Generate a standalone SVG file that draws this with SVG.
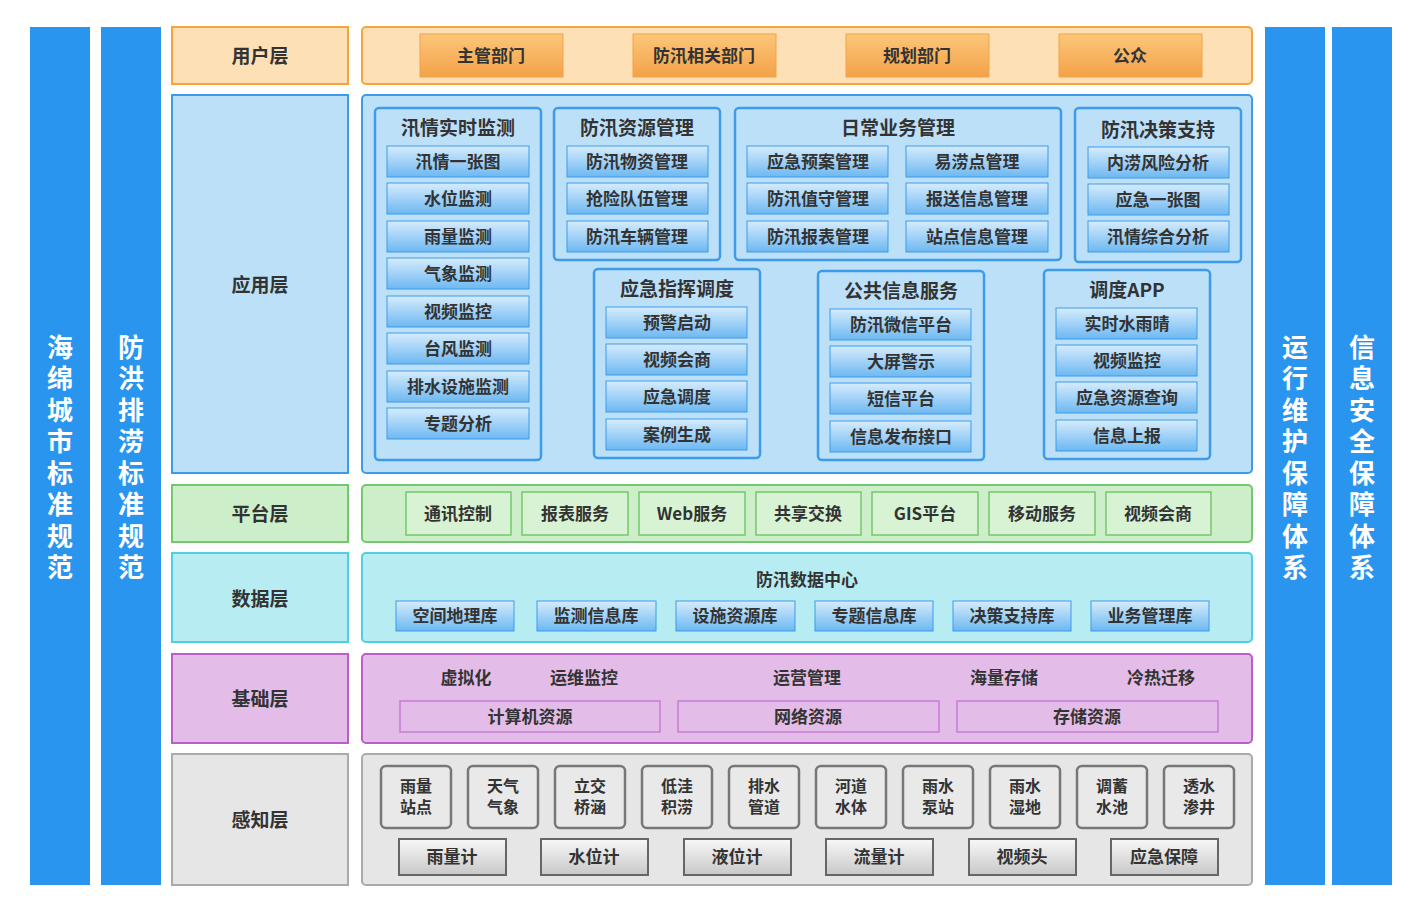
<svg xmlns="http://www.w3.org/2000/svg" width="1422" height="912" viewBox="0 0 1422 912">
<defs>
<linearGradient id="gb" x1="0" y1="0" x2="0" y2="1"><stop offset="0" stop-color="#d6ecfc"/><stop offset="1" stop-color="#6db8f2"/></linearGradient>
<linearGradient id="go" x1="0" y1="0" x2="0" y2="1"><stop offset="0" stop-color="#fcc67a"/><stop offset="1" stop-color="#f4a248"/></linearGradient>
<linearGradient id="gg" x1="0" y1="0" x2="0" y2="1"><stop offset="0" stop-color="#f8f8f8"/><stop offset="1" stop-color="#c8c8c8"/></linearGradient>
<style>
text{font-family:"Noto Sans CJK SC","Noto Sans",sans-serif;font-weight:bold;fill:#333;text-anchor:middle;dominant-baseline:central;transform:translateY(-2px)}
.side{fill:#2a95ee}
.vt{fill:#fff;font-size:26px;letter-spacing:5.5px;transform:none}
.lbl{font-size:19px}
.t{font-size:17px}
.t2{font-size:16px}
.grp{fill:#bde0f9;stroke:#3d9be9;stroke-width:2.5}
.bi{fill:url(#gb);stroke:#3d9be9;stroke-width:1}
.oi{fill:url(#go);stroke:#f3a248;stroke-width:1}
.pi{fill:#d7f3d4;stroke:#74c76e;stroke-width:1.5}
.di{fill:url(#gb);stroke:#3d9be9;stroke-width:1}
.ki{fill:none;stroke:#c77bd4;stroke-width:1.5}
.si{fill:#e9e9e9;stroke:#777;stroke-width:2.5}
.gi{fill:url(#gg);stroke:#666;stroke-width:2}
</style>
</defs>
<rect width="1422" height="912" fill="#fff"/>
<g id="sides">
<rect class="side" x="30" y="27" width="60" height="858"/>
<rect class="side" x="101" y="27" width="60" height="858"/>
<rect class="side" x="1265" y="27" width="60" height="858"/>
<rect class="side" x="1332" y="27" width="60" height="858"/>
<text class="vt" x="60" y="460" writing-mode="tb">海绵城市标准规范</text>
<text class="vt" x="131" y="460" writing-mode="tb">防洪排涝标准规范</text>
<text class="vt" x="1295" y="460" writing-mode="tb">运行维护保障体系</text>
<text class="vt" x="1362" y="460" writing-mode="tb">信息安全保障体系</text>
</g>
<g id="user">
<rect x="172" y="27" width="176" height="57" fill="#fde0b5" stroke="#f7a43a" stroke-width="2"/>
<text class="lbl" x="260" y="56">用户层</text>
<rect x="362" y="27" width="890" height="57" fill="#fde0b5" stroke="#f7a43a" stroke-width="2" rx="4"/>
<rect class="oi" x="420" y="34" width="143" height="43"/><text class="t" x="491" y="56">主管部门</text>
<rect class="oi" x="633" y="34" width="143" height="43"/><text class="t" x="704" y="56">防汛相关部门</text>
<rect class="oi" x="846" y="34" width="143" height="43"/><text class="t" x="917" y="56">规划部门</text>
<rect class="oi" x="1059" y="34" width="143" height="43"/><text class="t" x="1130" y="56">公众</text>
</g>
<g id="app">
<rect x="172" y="95" width="176" height="378" fill="#bde0f9" stroke="#3d9be9" stroke-width="2"/>
<text class="lbl" x="260" y="285">应用层</text>
<rect x="362" y="95" width="890" height="378" fill="#bde0f9" stroke="#3d9be9" stroke-width="2" rx="4"/>
<g id="g1"><rect class="grp" x="375" y="108" width="166" height="352" rx="4"/><text class="lbl" x="458" y="128">汛情实时监测</text>
<rect class="bi" x="387" y="146" width="142" height="31"/><text class="t" x="458" y="162">汛情一张图</text>
<rect class="bi" x="387" y="183" width="142" height="31"/><text class="t" x="458" y="199">水位监测</text>
<rect class="bi" x="387" y="221" width="142" height="31"/><text class="t" x="458" y="237">雨量监测</text>
<rect class="bi" x="387" y="258" width="142" height="31"/><text class="t" x="458" y="274">气象监测</text>
<rect class="bi" x="387" y="296" width="142" height="31"/><text class="t" x="458" y="312">视频监控</text>
<rect class="bi" x="387" y="333" width="142" height="31"/><text class="t" x="458" y="349">台风监测</text>
<rect class="bi" x="387" y="371" width="142" height="31"/><text class="t" x="458" y="387">排水设施监测</text>
<rect class="bi" x="387" y="408" width="142" height="31"/><text class="t" x="458" y="424">专题分析</text></g>
<g id="g2"><rect class="grp" x="554" y="108" width="166" height="152" rx="4"/><text class="lbl" x="637" y="128">防汛资源管理</text>
<rect class="bi" x="567" y="146" width="141" height="31"/><text class="t" x="637" y="162">防汛物资管理</text>
<rect class="bi" x="567" y="183" width="141" height="31"/><text class="t" x="637" y="199">抢险队伍管理</text>
<rect class="bi" x="567" y="221" width="141" height="31"/><text class="t" x="637" y="237">防汛车辆管理</text></g>
<g id="g3"><rect class="grp" x="735" y="108" width="326" height="152" rx="4"/><text class="lbl" x="898" y="128">日常业务管理</text>
<rect class="bi" x="747" y="146" width="141" height="31"/><text class="t" x="818" y="162">应急预案管理</text>
<rect class="bi" x="747" y="183" width="141" height="31"/><text class="t" x="818" y="199">防汛值守管理</text>
<rect class="bi" x="747" y="221" width="141" height="31"/><text class="t" x="818" y="237">防汛报表管理</text>
<rect class="bi" x="906" y="146" width="142" height="31"/><text class="t" x="977" y="162">易涝点管理</text>
<rect class="bi" x="906" y="183" width="142" height="31"/><text class="t" x="977" y="199">报送信息管理</text>
<rect class="bi" x="906" y="221" width="142" height="31"/><text class="t" x="977" y="237">站点信息管理</text></g>
<g id="g4"><rect class="grp" x="1075" y="108" width="166" height="154" rx="4"/><text class="lbl" x="1158" y="130">防汛决策支持</text>
<rect class="bi" x="1088" y="147" width="141" height="31"/><text class="t" x="1158" y="163">内涝风险分析</text>
<rect class="bi" x="1088" y="184" width="141" height="31"/><text class="t" x="1158" y="200">应急一张图</text>
<rect class="bi" x="1088" y="221" width="141" height="31"/><text class="t" x="1158" y="237">汛情综合分析</text></g>
<g id="g5"><rect class="grp" x="594" y="269" width="166" height="189" rx="4"/><text class="lbl" x="677" y="289">应急指挥调度</text>
<rect class="bi" x="606" y="307" width="141" height="31"/><text class="t" x="677" y="323">预警启动</text>
<rect class="bi" x="606" y="344" width="141" height="31"/><text class="t" x="677" y="360">视频会商</text>
<rect class="bi" x="606" y="381" width="141" height="31"/><text class="t" x="677" y="397">应急调度</text>
<rect class="bi" x="606" y="419" width="141" height="31"/><text class="t" x="677" y="435">案例生成</text></g>
<g id="g6"><rect class="grp" x="818" y="271" width="166" height="189" rx="4"/><text class="lbl" x="901" y="291">公共信息服务</text>
<rect class="bi" x="830" y="309" width="141" height="31"/><text class="t" x="901" y="325">防汛微信平台</text>
<rect class="bi" x="830" y="346" width="141" height="31"/><text class="t" x="901" y="362">大屏警示</text>
<rect class="bi" x="830" y="383" width="141" height="31"/><text class="t" x="901" y="399">短信平台</text>
<rect class="bi" x="830" y="421" width="141" height="31"/><text class="t" x="901" y="437">信息发布接口</text></g>
<g id="g7"><rect class="grp" x="1044" y="270" width="166" height="189" rx="4"/><text class="lbl" x="1127" y="290">调度APP</text>
<rect class="bi" x="1056" y="308" width="141" height="31"/><text class="t" x="1127" y="324">实时水雨晴</text>
<rect class="bi" x="1056" y="345" width="141" height="31"/><text class="t" x="1127" y="361">视频监控</text>
<rect class="bi" x="1056" y="382" width="141" height="31"/><text class="t" x="1127" y="398">应急资源查询</text>
<rect class="bi" x="1056" y="420" width="141" height="31"/><text class="t" x="1127" y="436">信息上报</text></g>
</g>
<g id="platform">
<rect x="172" y="485" width="176" height="57" fill="#ccefc9" stroke="#74c76e" stroke-width="2"/>
<text class="lbl" x="260" y="514">平台层</text>
<rect x="362" y="485" width="890" height="57" fill="#ccefc9" stroke="#74c76e" stroke-width="2" rx="4"/>
<rect class="pi" x="406" y="492" width="105" height="43"/><text class="t" x="458" y="514">通讯控制</text>
<rect class="pi" x="522" y="492" width="106" height="43"/><text class="t" x="575" y="514">报表服务</text>
<rect class="pi" x="639" y="492" width="106" height="43"/><text class="t" x="692" y="514">Web服务</text>
<rect class="pi" x="756" y="492" width="105" height="43"/><text class="t" x="808" y="514">共享交换</text>
<rect class="pi" x="872" y="492" width="106" height="43"/><text class="t" x="925" y="514">GIS平台</text>
<rect class="pi" x="989" y="492" width="106" height="43"/><text class="t" x="1042" y="514">移动服务</text>
<rect class="pi" x="1106" y="492" width="105" height="43"/><text class="t" x="1158" y="514">视频会商</text>
</g>
<g id="data">
<rect x="172" y="553" width="176" height="89" fill="#b7ecf2" stroke="#4fcfe0" stroke-width="2"/>
<text class="lbl" x="260" y="599">数据层</text>
<rect x="362" y="553" width="890" height="89" fill="#b7ecf2" stroke="#4fcfe0" stroke-width="2" rx="4"/>
<text class="t" x="807" y="580">防汛数据中心</text>
<rect class="di" x="396" y="601" width="118" height="30"/><text class="t" x="455" y="616">空间地理库</text>
<rect class="di" x="537" y="601" width="119" height="30"/><text class="t" x="596" y="616">监测信息库</text>
<rect class="di" x="676" y="601" width="119" height="30"/><text class="t" x="735" y="616">设施资源库</text>
<rect class="di" x="815" y="601" width="118" height="30"/><text class="t" x="874" y="616">专题信息库</text>
<rect class="di" x="953" y="601" width="118" height="30"/><text class="t" x="1012" y="616">决策支持库</text>
<rect class="di" x="1091" y="601" width="118" height="30"/><text class="t" x="1150" y="616">业务管理库</text>
</g>
<g id="base">
<rect x="172" y="654" width="176" height="89" fill="#e3bde8" stroke="#b95fc7" stroke-width="2"/>
<text class="lbl" x="260" y="699">基础层</text>
<rect x="362" y="654" width="890" height="89" fill="#e3bde8" stroke="#b95fc7" stroke-width="2" rx="4"/>
<text class="t" x="466" y="678">虚拟化</text>
<text class="t" x="584" y="678">运维监控</text>
<text class="t" x="807" y="678">运营管理</text>
<text class="t" x="1004" y="678">海量存储</text>
<text class="t" x="1161" y="678">冷热迁移</text>
<rect class="ki" x="400" y="701" width="260" height="31"/><text class="t" x="530" y="717">计算机资源</text>
<rect class="ki" x="678" y="701" width="261" height="31"/><text class="t" x="808" y="717">网络资源</text>
<rect class="ki" x="957" y="701" width="261" height="31"/><text class="t" x="1087" y="717">存储资源</text>
</g>
<g id="sense">
<rect x="172" y="754" width="176" height="131" fill="#e6e6e6" stroke="#aaa" stroke-width="2"/>
<text class="lbl" x="260" y="820">感知层</text>
<rect x="362" y="754" width="890" height="131" fill="#e6e6e6" stroke="#aaa" stroke-width="2" rx="4"/>
<g>
<rect class="si" x="381" y="766" width="70" height="62" rx="5"/><text class="t2" x="416" y="787">雨量<tspan x="416" dy="21">站点</tspan></text>
<rect class="si" x="468" y="766" width="70" height="62" rx="5"/><text class="t2" x="503" y="787">天气<tspan x="503" dy="21">气象</tspan></text>
<rect class="si" x="555" y="766" width="70" height="62" rx="5"/><text class="t2" x="590" y="787">立交<tspan x="590" dy="21">桥涵</tspan></text>
<rect class="si" x="642" y="766" width="70" height="62" rx="5"/><text class="t2" x="677" y="787">低洼<tspan x="677" dy="21">积涝</tspan></text>
<rect class="si" x="729" y="766" width="70" height="62" rx="5"/><text class="t2" x="764" y="787">排水<tspan x="764" dy="21">管道</tspan></text>
<rect class="si" x="816" y="766" width="70" height="62" rx="5"/><text class="t2" x="851" y="787">河道<tspan x="851" dy="21">水体</tspan></text>
<rect class="si" x="903" y="766" width="70" height="62" rx="5"/><text class="t2" x="938" y="787">雨水<tspan x="938" dy="21">泵站</tspan></text>
<rect class="si" x="990" y="766" width="70" height="62" rx="5"/><text class="t2" x="1025" y="787">雨水<tspan x="1025" dy="21">湿地</tspan></text>
<rect class="si" x="1077" y="766" width="70" height="62" rx="5"/><text class="t2" x="1112" y="787">调蓄<tspan x="1112" dy="21">水池</tspan></text>
<rect class="si" x="1164" y="766" width="70" height="62" rx="5"/><text class="t2" x="1199" y="787">透水<tspan x="1199" dy="21">渗井</tspan></text>
</g>
<rect class="gi" x="399" y="839" width="107" height="36"/><text class="t" x="452" y="857">雨量计</text>
<rect class="gi" x="541" y="839" width="107" height="36"/><text class="t" x="594" y="857">水位计</text>
<rect class="gi" x="684" y="839" width="107" height="36"/><text class="t" x="737" y="857">液位计</text>
<rect class="gi" x="826" y="839" width="107" height="36"/><text class="t" x="879" y="857">流量计</text>
<rect class="gi" x="969" y="839" width="107" height="36"/><text class="t" x="1022" y="857">视频头</text>
<rect class="gi" x="1111" y="839" width="107" height="36"/><text class="t" x="1164" y="857">应急保障</text>
</g>
<g id="connectors"/>
</svg>
